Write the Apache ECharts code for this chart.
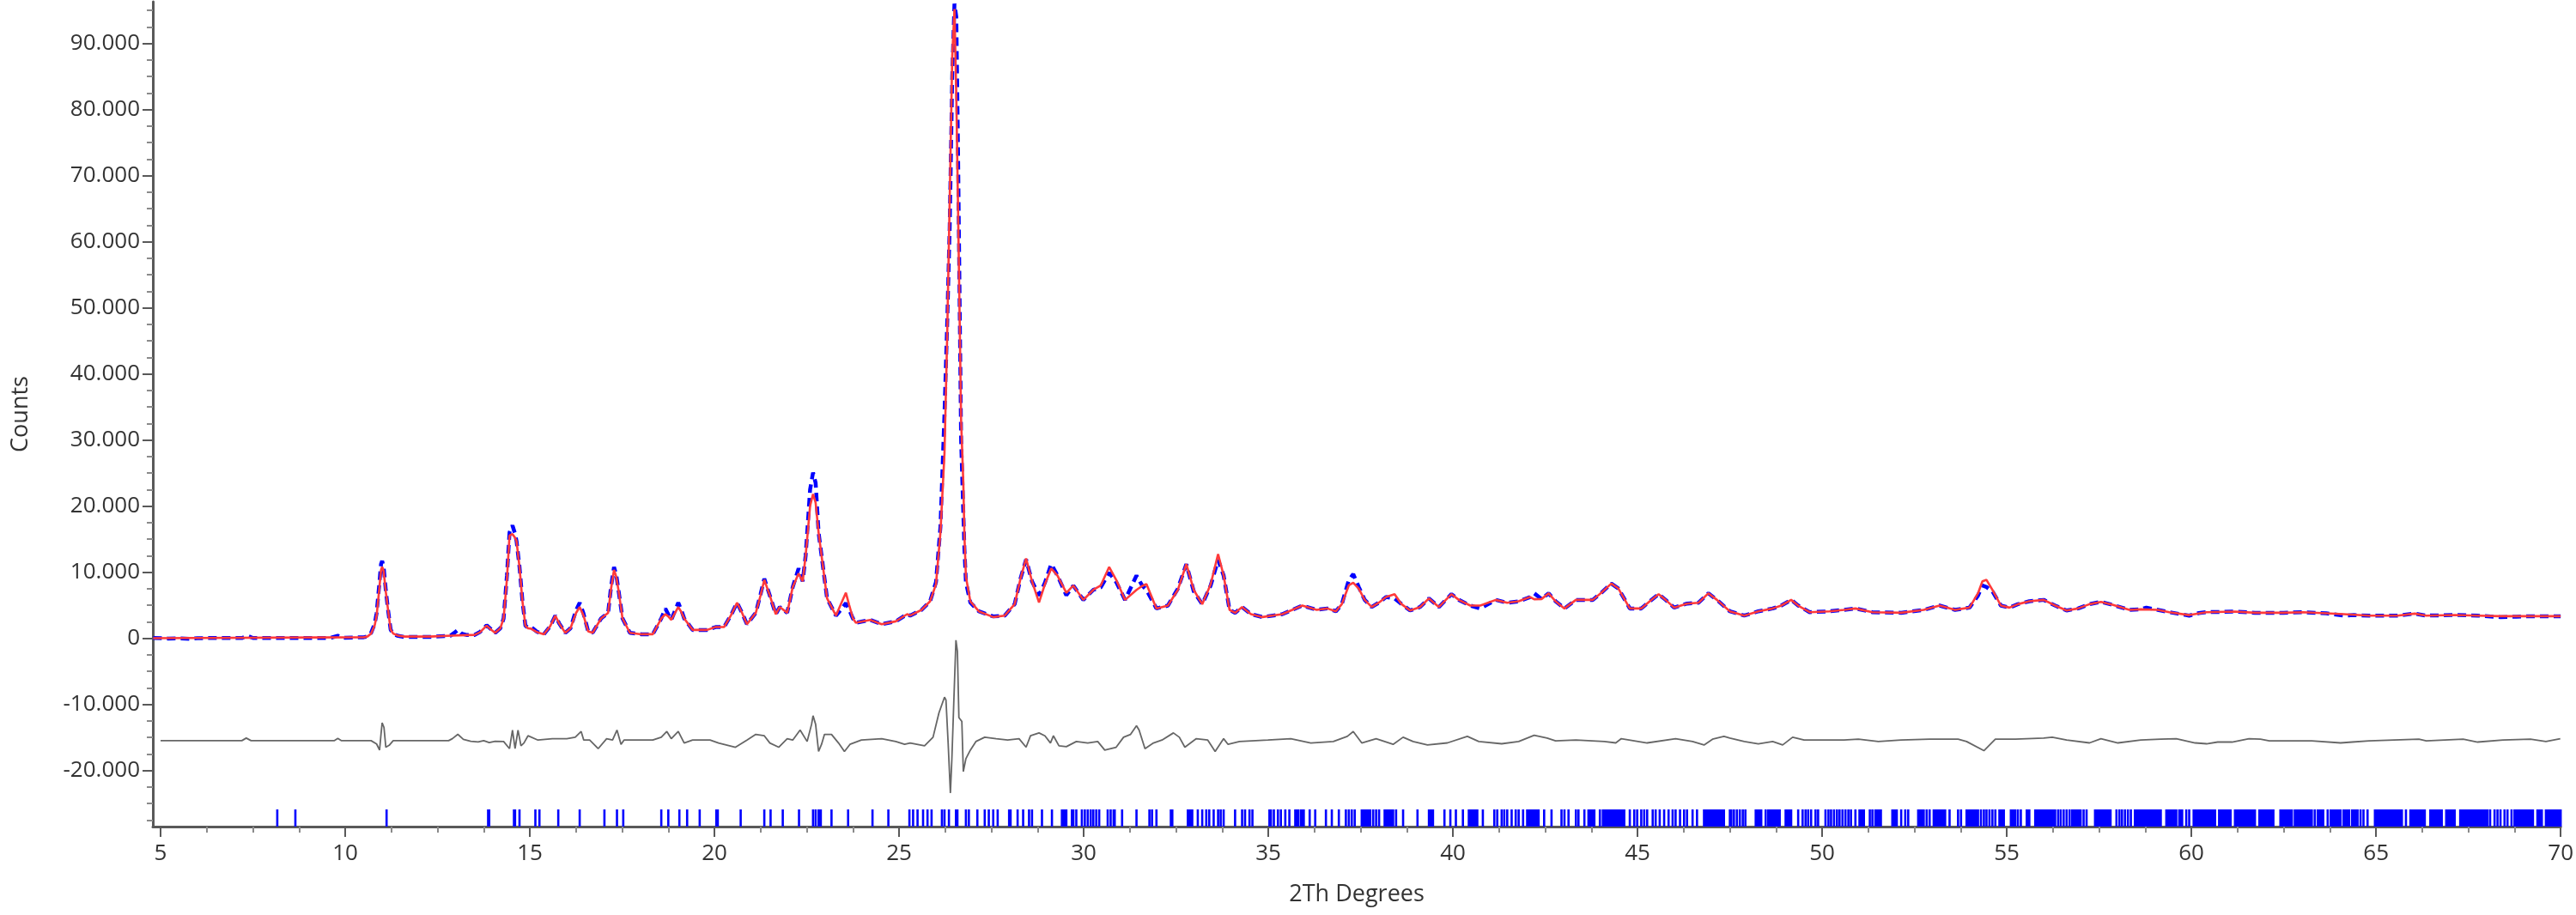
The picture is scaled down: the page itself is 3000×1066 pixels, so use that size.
<!DOCTYPE html>
<html><head><meta charset="utf-8">
<script src="https://cdn.jsdelivr.net/npm/echarts@6/dist/echarts.min.js"></script>
<style>html,body{margin:0;padding:0;background:#fff}#c{width:3000px;height:1066px}</style>
</head><body><div id="c"></div>
<script>
// 2Theta (deg), counts
const observed = [
[4.8,50],[5.2,-50],[5.5,-30],[5.8,-80],[6.0,20],[7.2,30],[7.36,350],[7.5,40],[9.6,50],[9.8,380],[10.0,60],[10.5,150],[10.6,250],[10.7,800],[10.8,2200],[10.85,3800],[10.92,8000],[10.97,11200],[11.0,11700],[11.04,10800],[11.1,7200],[11.16,4300],[11.23,1300],[11.3,650],[11.43,350],[11.6,200],[12.3,200],[12.85,380],[12.95,800],[13.05,1250],[13.15,700],[13.3,480],[13.5,500],[13.65,950],[13.83,1950],[13.95,1350],[14.06,820],
[14.2,1500],[14.29,3000],[14.38,9500],[14.45,16000],[14.53,17050],[14.6,15800],[14.64,14700],[14.72,10800],[14.80,5600],[14.88,1900],[14.95,1600],[15.03,1700],[15.2,950],[15.38,600],[15.55,1800],[15.69,3400],[15.8,2200],[15.96,820],[16.1,1500],[16.25,4200],[16.35,5370],[16.45,3800],[16.58,1040],[16.70,820],[16.93,2990],[17.12,3850],[17.2,7800],[17.28,10780],[17.34,9600],[17.40,7315],[17.51,2990],[17.71,820],[18.02,600],[18.33,600],[18.56,2990],[18.67,4500],[18.75,3600],[18.83,2770],[19.02,5370],[19.1,4300],[19.18,2990],[19.41,1255],[19.80,1255],[20.03,1690],[20.26,1690],[20.45,3500],[20.61,5370],[20.75,3800],[20.88,2120],[21.12,3850],[21.25,6700],[21.35,9000],[21.50,6450],[21.66,3640],[21.77,4720],[21.97,3850],[22.12,7750],[22.28,10565],[22.39,8610],[22.47,12510],[22.59,22500],[22.67,25065],[22.74,23500],[22.82,16000],[22.94,10780],[23.05,6020],[23.29,3420],[23.45,4500],[23.56,5300],[23.65,4300],[23.75,2990],[23.83,2340],[24.22,2770],[24.53,2120],[24.91,2555],[25.22,3640],
[25.30,3420],[25.61,4290],[25.84,5585],[26.00,8500],[26.12,16840],[26.23,34000],[26.30,47000],[26.37,62000],[26.44,85000],[26.50,96000],[26.55,94000],[26.60,72000],[26.68,30000],[26.74,19000],[26.77,13500],[26.81,8500],[26.93,5400],[27.16,4070],[27.55,3300],[27.86,3420],[28.13,5150],[28.29,9050],[28.44,11900],[28.60,8615],[28.79,6450],[28.95,8400],[29.12,11210],[29.29,9480],[29.53,6500],[29.72,7965],[29.99,5800],[30.26,7315],[30.46,7700],[30.69,9910],[30.88,8500],[31.12,5800],[31.43,9480],[31.58,8000],[31.70,7315],[31.97,4500],[32.28,4940],[32.55,7500],[32.78,11210],[32.98,7100],[33.21,5150],[33.44,8000],[33.64,11860],[33.79,9480],[33.95,4290],[34.10,3850],[34.29,4720],[34.53,3640],[34.84,3200],[35.38,3640],[35.92,4940],[36.31,4290],
[36.60,4500],[36.83,4070],[36.99,5150],[37.18,8800],[37.30,9700],[37.45,7750],[37.61,5800],[37.80,4720],[37.99,5370],[38.19,6230],[38.42,6020],[38.61,5150],[38.84,4200],[39.11,4720],[39.35,6020],[39.62,4720],[39.96,6670],[40.16,5800],[40.47,4940],[40.74,4500],[41.16,5800],[41.47,5370],[41.78,5585],[42.09,6230],[42.20,6800],[42.40,5930],[42.59,6800],[42.78,5585],[43.02,4500],[43.33,5800],[43.79,5800],[44.02,6880],[44.29,8270],[44.48,7530],[44.79,4500],[45.10,4500],[45.33,5585],[45.57,6670],[45.76,5800],[45.99,4630],[46.34,5240],[46.65,5370],[46.92,6800],[47.15,5800],[47.50,4070],
[47.89,3420],[48.27,4070],[48.66,4500],[48.89,4940],[49.16,5800],[49.35,4940],[49.66,3940],[50.20,4070],[50.59,4290],[50.90,4500],[51.36,3940],[52.14,3850],[52.75,4290],[53.18,4940],[53.60,4290],[53.99,4630],[54.22,6450],[54.34,7965],[54.45,7750],[54.61,7100],[54.84,4940],[55.07,4630],[55.30,5150],[55.61,5585],[56.00,5800],[56.31,4940],[56.62,4200],[56.93,4500],[57.24,5150],[57.55,5500],[57.86,5060],[58.32,4290],[58.63,4370],
[58.78,4630],[59.09,4290],[59.40,3940],[59.94,3420],[60.2,3800],[60.41,3940],[61.18,4030],[61.72,3850],[62.49,3850],[63.03,3940],[63.65,3770],[64.12,3420],[64.4,3500],[64.81,3420],[65.58,3420],[66.05,3720],[66.36,3420],[67.13,3510],[67.75,3420],[68.37,3200],[68.8,3250],[69.06,3330],[70.0,3330]
];
const calculated = [
[4.8,0],[10.5,150],[10.6,250],[10.7,700],[10.8,2000],[10.85,3400],[10.92,7300],[10.97,10300],[11.0,10800],[11.04,10200],[11.1,7000],[11.16,4300],[11.23,1300],[11.3,700],[11.43,400],[11.6,250],[12.3,250],[12.9,400],[13.3,480],[13.5,500],[13.65,900],[13.83,1900],[13.95,1300],[14.06,820],
[14.2,1500],[14.29,3000],[14.38,9000],[14.45,15540],[14.53,15760],[14.6,15200],[14.64,14675],[14.72,10780],[14.80,5580],[14.88,1900],[14.95,1500],[15.03,1450],[15.2,900],[15.38,600],[15.55,1800],[15.69,3400],[15.8,2200],[15.96,820],[16.1,1500],[16.25,3800],[16.35,4720],[16.45,3500],[16.58,1040],[16.70,820],[16.93,2990],[17.12,3850],[17.2,7500],[17.28,10350],[17.34,9300],[17.40,7315],[17.51,2990],[17.71,820],[18.02,600],[18.33,600],[18.56,2990],[18.67,3640],[18.75,3300],[18.83,2770],[19.02,4720],[19.1,4000],[19.18,2990],[19.41,1255],[19.80,1255],[20.03,1690],[20.26,1690],[20.45,3500],[20.61,5370],[20.75,3800],[20.88,2120],[21.12,3850],[21.25,6500],[21.35,8830],[21.50,6450],[21.66,3640],[21.77,4720],[21.97,3850],[22.12,7750],[22.28,9800],[22.39,8610],[22.47,12510],[22.59,20000],[22.67,21820],[22.74,20500],[22.82,16000],[22.94,10780],[23.05,6020],[23.29,3420],[23.45,5500],[23.56,6880],[23.65,5000],[23.75,2990],[23.83,2340],[24.22,2770],[24.53,2120],[24.91,2555],[25.22,3640],
[25.30,3420],[25.61,4290],[25.84,5585],[26.00,8180],[26.12,16000],[26.23,28000],[26.30,45000],[26.37,66000],[26.44,88000],[26.50,95200],[26.55,82000],[26.60,64000],[26.68,33000],[26.74,23500],[26.77,15500],[26.81,9300],[26.93,5585],[27.16,4070],[27.55,3200],[27.86,3420],[28.13,5150],[28.29,9050],[28.44,12080],[28.60,8615],[28.79,5400],[28.95,8180],[29.12,10560],[29.29,9480],[29.53,6880],[29.72,7965],[29.99,5800],[30.26,7315],[30.46,7965],[30.69,10780],[30.88,8830],[31.12,5800],[31.43,7315],[31.58,7900],[31.70,8180],[31.97,4500],[32.28,4940],[32.55,7315],[32.78,11210],[32.98,7315],[33.21,5150],[33.44,8180],[33.64,12730],[33.79,9480],[33.95,4290],[34.10,3850],[34.29,4720],[34.53,3640],[34.84,3200],[35.38,3640],[35.92,4940],[36.31,4290],
[36.60,4500],[36.83,4070],[36.99,5150],[37.18,8000],[37.30,8400],[37.45,7500],[37.61,5800],[37.80,4720],[37.99,5370],[38.19,6230],[38.42,6670],[38.61,5150],[38.84,4200],[39.11,4720],[39.35,6020],[39.62,4720],[39.96,6670],[40.16,5800],[40.47,4940],[40.74,4940],[41.16,5800],[41.47,5370],[41.78,5585],[42.09,6230],[42.20,5900],[42.40,5930],[42.59,6800],[42.78,5585],[43.02,4500],[43.33,5800],[43.79,5800],[44.02,6880],[44.29,8270],[44.48,7530],[44.79,4500],[45.10,4500],[45.33,5585],[45.57,6670],[45.76,5800],[45.99,4630],[46.34,5240],[46.65,5370],[46.92,6800],[47.15,5800],[47.50,4070],
[47.89,3420],[48.27,4070],[48.66,4500],[48.89,4940],[49.16,5800],[49.35,4940],[49.66,3940],[50.20,4070],[50.59,4290],[50.90,4500],[51.36,3940],[52.14,3850],[52.75,4290],[53.18,4940],[53.60,4290],[53.99,4630],[54.22,6800],[54.34,8615],[54.45,8830],[54.61,7315],[54.84,4940],[55.07,4630],[55.30,5150],[55.61,5585],[56.00,5800],[56.31,4940],[56.62,4200],[56.93,4500],[57.24,5150],[57.55,5500],[57.86,5060],[58.32,4290],[58.63,4370],
[59.09,4290],[59.40,3940],[59.94,3500],[60.41,3940],[61.18,4030],[61.72,3850],[62.49,3850],[63.03,3940],[63.65,3770],[64.12,3640],[64.81,3420],[65.58,3420],[66.05,3720],[66.36,3420],[67.13,3510],[67.75,3420],[68.37,3330],[69.06,3330],[70.0,3330]
];
// difference curve (plotted with its offset)
const difference = [
[5.0,-15500],[7.2,-15500],[7.32,-15110],[7.45,-15500],[9.7,-15500],[9.8,-15150],[9.9,-15500],[10.7,-15500],[10.85,-16000],[10.93,-16925],[10.97,-14500],[11.0,-12810],[11.05,-13500],[11.1,-16500],[11.19,-16200],[11.3,-15500],[12.8,-15500],[12.9,-15200],[13.05,-14545],[13.2,-15300],[13.4,-15600],[13.6,-15700],[13.75,-15500],[13.9,-15800],[14.06,-15600],
[14.29,-15630],[14.45,-16710],[14.53,-13900],[14.60,-16710],[14.68,-13900],[14.76,-16280],[14.84,-15850],[14.95,-14760],[15.22,-15410],[15.61,-15200],[16.0,-15200],[16.23,-14980],[16.39,-14110],[16.46,-15410],[16.62,-15410],[16.85,-16710],[17.08,-15200],[17.24,-15410],[17.36,-13900],[17.47,-16060],[17.55,-15410],[18.33,-15410],[18.56,-14980],[18.71,-14110],[18.83,-15200],[19.02,-14110],[19.18,-15850],[19.41,-15410],[19.88,-15410],[20.11,-15850],[20.57,-16490],[20.88,-15410],[21.12,-14550],[21.35,-14760],[21.50,-15850],[21.74,-16490],[21.97,-15200],[22.12,-15410],[22.32,-13900],[22.51,-15630],[22.63,-13030],[22.67,-11730],[22.74,-13030],[22.82,-17140],[22.90,-16060],[22.98,-14550],[23.17,-14550],[23.36,-15850],[23.52,-17140],[23.67,-16060],[23.98,-15410],[24.53,-15200],[24.91,-15630],[25.15,-16060],[25.30,-15850],
[25.69,-16280],[25.92,-14980],[26.08,-11300],[26.23,-8920],[26.27,-9350],[26.33,-16000],[26.39,-23420],[26.43,-18230],[26.48,-10000],[26.54,-300],[26.58,-2000],[26.62,-12000],[26.70,-12600],[26.74,-20170],[26.81,-18230],[26.93,-16930],[27.08,-15630],[27.32,-14980],[27.63,-15200],[27.94,-15410],[28.25,-15200],[28.44,-16490],[28.56,-14760],[28.79,-14330],[28.95,-14760],[29.10,-15850],[29.18,-14760],[29.33,-16280],[29.53,-16410],[29.80,-15630],[30.11,-15850],[30.38,-15630],[30.57,-16930],[30.88,-16490],[31.08,-14980],[31.27,-14550],[31.43,-13250],[31.50,-13900],[31.66,-16710],[31.89,-15850],[32.12,-15410],[32.43,-14330],[32.59,-14980],[32.74,-16490],[33.05,-15200],[33.36,-15410],[33.56,-17140],[33.79,-15200],[33.91,-16060],[34.22,-15630],[34.99,-15410],[35.61,-15200],[36.15,-15850],[36.76,-15630],
[37.14,-14850],[37.30,-14110],[37.53,-15840],[37.92,-15200],[38.38,-16060],[38.65,-14980],[38.92,-15630],[39.31,-16150],[39.85,-15840],[40.39,-14850],[40.70,-15630],[41.32,-15970],[41.78,-15630],[42.20,-14680],[42.55,-15110],[42.78,-15540],[43.33,-15410],[44.10,-15630],[44.41,-15840],[44.56,-15200],[45.26,-15840],[46.03,-15200],[46.49,-15630],[46.80,-16150],[47.03,-15280],[47.34,-14850],[47.50,-15110],
[47.89,-15630],[48.27,-15970],[48.66,-15630],[48.93,-16150],[49.20,-14980],[49.51,-15410],[50.59,-15410],[50.98,-15280],[51.52,-15630],[52.14,-15410],[52.91,-15280],[53.68,-15280],[53.91,-15630],[54.38,-17010],[54.69,-15280],[55.23,-15280],[56.00,-15110],[56.23,-14980],[56.62,-15410],[57.24,-15840],[57.55,-15200],[58.01,-15840],[58.63,-15410],
[59.17,-15280],[59.59,-15200],[60.10,-15840],[60.41,-15970],[60.71,-15710],[61.10,-15710],[61.56,-15200],[61.87,-15280],[62.11,-15540],[63.26,-15540],[64.04,-15840],[64.35,-15710],[64.81,-15540],[66.16,-15280],[66.36,-15540],[67.36,-15280],[67.75,-15710],[68.44,-15410],[69.18,-15280],[69.60,-15630],[69.99,-15200]
];
// reflection positions: [from, to] in 2Theta (single reflections have from == to)
const reflections = [
[8.16,8.16],[8.65,8.65],[11.12,11.12],[13.87,13.90],
[14.57,14.60],[14.72,14.72],[15.15,15.15],[15.26,15.26],[15.77,15.77],[16.35,16.35],[17.02,17.02],[17.36,17.36],[17.53,17.53],[18.56,18.56],[18.75,18.75],[19.05,19.05],[19.26,19.26],[19.60,19.60],[20.05,20.09],[20.71,20.71],[21.35,21.35],[21.52,21.52],[21.85,21.85],[22.29,22.29],[22.67,22.67],[22.74,22.74],[22.82,22.88],[23.17,23.17],[23.62,23.62],[24.28,24.28],[24.71,24.71],[25.28,25.28],
[25.38,25.38],[25.50,25.50],[25.65,25.65],[25.77,25.77],[25.88,25.88],[26.16,26.16],[26.23,26.23],[26.35,26.35],[26.54,26.54],[26.58,26.58],[26.81,26.81],[26.89,26.89],[27.12,27.12],[27.32,27.32],[27.43,27.43],[27.55,27.55],[27.67,27.67],[27.98,28.02],[28.21,28.21],[28.36,28.36],[28.52,28.52],[28.60,28.60],[28.87,28.87],[29.14,29.14],[29.41,29.53],[29.68,29.72],[29.80,29.80],[29.95,29.95],[30.03,30.03],[30.11,30.11],[30.19,30.19],[30.26,30.26],[30.34,30.34],[30.42,30.42],[30.65,30.65],[30.73,30.73],[30.81,30.84],[31.04,31.04],[31.43,31.43],[31.78,31.78],[31.85,31.85],[31.97,31.97],[32.36,32.40],[32.82,32.94],[33.09,33.09],[33.21,33.21],[33.32,33.32],[33.40,33.40],[33.52,33.52],[33.64,33.64],[33.71,33.71],[33.79,33.79],[34.10,34.10],[34.29,34.29],[34.37,34.37],[34.49,34.49],[34.57,34.57],[35.03,35.07],[35.15,35.15],[35.26,35.26],[35.34,35.34],[35.46,35.46],[35.57,35.57],[35.73,35.81],[35.88,35.96],[36.12,36.12],[36.27,36.27],
[36.56,36.56],[36.72,36.72],[36.91,36.91],[37.10,37.10],[37.18,37.18],[37.26,37.26],[37.34,37.34],[37.53,37.76],[37.84,37.84],[37.92,37.92],[38.00,38.00],[38.15,38.38],[38.46,38.46],[38.65,38.65],[39.04,39.04],[39.35,39.46],[39.77,39.77],[39.93,39.93],[40.08,40.08],[40.27,40.27],[40.43,40.66],[40.81,40.81],[41.12,41.12],[41.20,41.20],[41.32,41.32],[41.39,41.39],[41.47,41.47],[41.59,41.59],[41.70,41.70],[41.78,41.78],[41.90,41.90],[42.01,42.32],[42.47,42.47],[42.67,42.67],[42.94,42.94],[43.02,43.02],[43.13,43.13],[43.33,43.33],[43.40,43.40],[43.56,43.56],[43.67,43.83],[43.98,43.98],[44.06,44.64],[44.79,44.79],[44.91,44.91],[44.99,44.99],[45.10,45.10],[45.18,45.18],[45.26,45.26],[45.41,45.41],[45.49,45.49],[45.60,45.60],[45.72,45.72],[45.84,45.84],[45.95,45.95],[46.03,46.03],[46.15,46.15],[46.26,46.26],[46.34,46.34],[46.49,46.49],[46.61,46.61],[46.80,47.34],[47.50,47.50],
[47.54,47.54],[47.61,47.61],[47.69,47.69],[47.77,47.77],[47.85,47.85],[47.92,47.92],[48.20,48.35],[48.47,48.47],[48.54,48.85],[49.01,49.16],[49.35,49.35],[49.47,49.47],[49.55,49.55],[49.62,49.62],[49.70,49.70],[49.82,49.82],[49.89,49.89],[50.09,50.09],[50.17,50.17],[50.24,50.24],[50.32,50.32],[50.40,50.40],[50.47,50.47],[50.55,50.55],[50.63,50.63],[50.71,50.71],[50.78,50.78],[50.90,50.90],[51.01,51.13],[51.29,51.29],[51.36,51.36],[51.44,51.59],[51.90,52.02],[52.14,52.14],[52.25,52.25],[52.33,52.33],[52.60,52.75],[52.83,52.83],[52.91,52.91],[53.02,53.33],[53.45,53.45],[53.68,53.68],[53.76,53.76],[53.91,54.22],[54.30,54.30],[54.38,54.38],[54.45,54.45],[54.53,54.53],[54.61,54.61],[54.69,54.69],[54.80,54.92],[55.11,55.23],[55.30,55.30],[55.38,55.38],[55.54,55.61],[55.77,56.31],[56.39,56.39],[56.46,56.46],[56.54,56.54],[56.62,56.62],[56.70,56.70],[56.77,57.00],[57.08,57.08],[57.16,57.16],[57.39,57.81],[57.97,57.97],[58.05,58.05],[58.12,58.12],[58.20,58.20],[58.28,58.28],[58.36,58.36],[58.47,58.63],
[58.63,59.17],[59.32,59.59],[59.67,59.75],[59.86,59.86],[59.94,59.94],[60.06,60.64],[60.75,61.06],[61.18,61.72],[61.84,62.22],[62.41,62.72],[62.80,63.26],[63.34,63.34],[63.42,63.57],[63.69,63.69],[63.77,64.04],[64.12,64.27],[64.35,64.50],[64.58,64.58],[64.66,64.66],[64.77,64.77],[64.97,65.70],[65.81,65.81],[65.93,66.32],[66.47,66.78],[66.90,67.13],[67.28,68.02],[68.09,68.09],[68.21,68.21],[68.29,68.29],[68.37,68.37],[68.48,68.48],[68.56,68.56],[68.67,68.67],[68.75,69.25],[69.37,69.49],[69.60,70.00]
];
const yTickValues = [-20000,-10000,0,10000,20000,30000,40000,50000,60000,70000,80000,90000];
const yMinorTickValues = [-27500,-25000,-22500,-17500,-15000,-12500,-7500,-5000,-2500,2500,5000,7500,12500,15000,17500,22500,25000,27500,32500,35000,37500,42500,45000,47500,52500,55000,57500,62500,65000,67500,72500,75000,77500,82500,85000,87500,92500,95000];
const xTickValues = [5,10,15,20,25,30,35,40,45,50,55,60,65,70];
const xMinorTickValues = [6.25,7.5,8.75,11.25,12.5,13.75,16.25,17.5,18.75,21.25,22.5,23.75,26.25,27.5,28.75,31.25,32.5,33.75,36.25,37.5,38.75,41.25,42.5,43.75,46.25,47.5,48.75,51.25,52.5,53.75,56.25,57.5,58.75,61.25,62.5,63.75,66.25,67.5,68.75];

const X_MIN = 4.79, X_MAX = 70, Y_MIN = -28500, Y_MAX = 96300;
const axisColor = '#595959', textColor = '#333333', font = 'Open Sans';

const chart = echarts.init(document.getElementById('c'), null, {renderer: 'canvas'});
chart.setOption({
  animation: false,
  backgroundColor: '#ffffff',
  grid: {left: 178, right: 10, top: 2, bottom: 103},
  xAxis: [{
    type: 'value', min: X_MIN, max: X_MAX, position: 'bottom',
    name: '2Th Degrees', nameLocation: 'middle', nameGap: 66,
    nameTextStyle: {fontSize: 27, color: textColor, fontFamily: font},
    axisLine: {show: true, onZero: false, lineStyle: {color: axisColor, width: 3}},
    axisTick: {show: true, customValues: xTickValues, length: 12, lineStyle: {color: axisColor, width: 2}},
    axisLabel: {customValues: xTickValues, margin: 19, fontSize: 26, color: textColor, fontFamily: font},
    splitLine: {show: false}
  }, {
    type: 'value', min: X_MIN, max: X_MAX, position: 'bottom',
    axisLine: {show: false, onZero: false},
    axisTick: {show: true, customValues: xMinorTickValues, length: 7, lineStyle: {color: '#8a8a8a', width: 2}},
    axisLabel: {show: false}, splitLine: {show: false}
  }],
  yAxis: [{
    type: 'value', min: Y_MIN, max: Y_MAX, position: 'left',
    name: 'Counts', nameLocation: 'middle', nameGap: 140,
    nameTextStyle: {fontSize: 27, color: textColor, fontFamily: font},
    axisLine: {show: true, onZero: false, lineStyle: {color: axisColor, width: 3}},
    axisTick: {show: true, customValues: yTickValues, length: 12, lineStyle: {color: axisColor, width: 2}},
    axisLabel: {customValues: yTickValues, margin: 15, fontSize: 26, color: textColor, fontFamily: font,
      formatter: v => v === 0 ? '0' : (v < 0 ? '-' : '') + (Math.abs(v) / 1000) + '.000'},
    splitLine: {show: false}
  }, {
    type: 'value', min: Y_MIN, max: Y_MAX, position: 'left',
    axisLine: {show: false, onZero: false},
    axisTick: {show: true, customValues: yMinorTickValues, length: 7, lineStyle: {color: '#8a8a8a', width: 2}},
    axisLabel: {show: false}, splitLine: {show: false}
  }],
  series: [{
    name: 'Difference', type: 'line', data: difference, symbol: 'none', z: 2,
    lineStyle: {color: '#666666', width: 1.8}
  }, {
    name: 'Observed', type: 'line', data: observed, symbol: 'none', z: 3,
    lineStyle: {color: '#0000ff', width: 4.5, type: [10, 6]}
  }, {
    name: 'Calculated', type: 'line', data: calculated, symbol: 'none', z: 4,
    lineStyle: {color: '#ff3a3a', width: 2.6}
  }, {
    name: 'Reflections', type: 'custom', data: reflections, z: 3,
    encode: {x: [0, 1]},
    renderItem: function (params, api) {
      const p0 = api.coord([api.value(0), Y_MIN]);
      const p1 = api.coord([api.value(1), -25900]);
      return {
        type: 'rect',
        shape: {x: p0[0] - 1.3, y: p1[1], width: Math.max(p1[0] - p0[0], 0) + 2.6, height: p0[1] - p1[1]},
        style: {fill: '#0000ff'}
      };
    }
  }]
});
</script>
</body></html>
